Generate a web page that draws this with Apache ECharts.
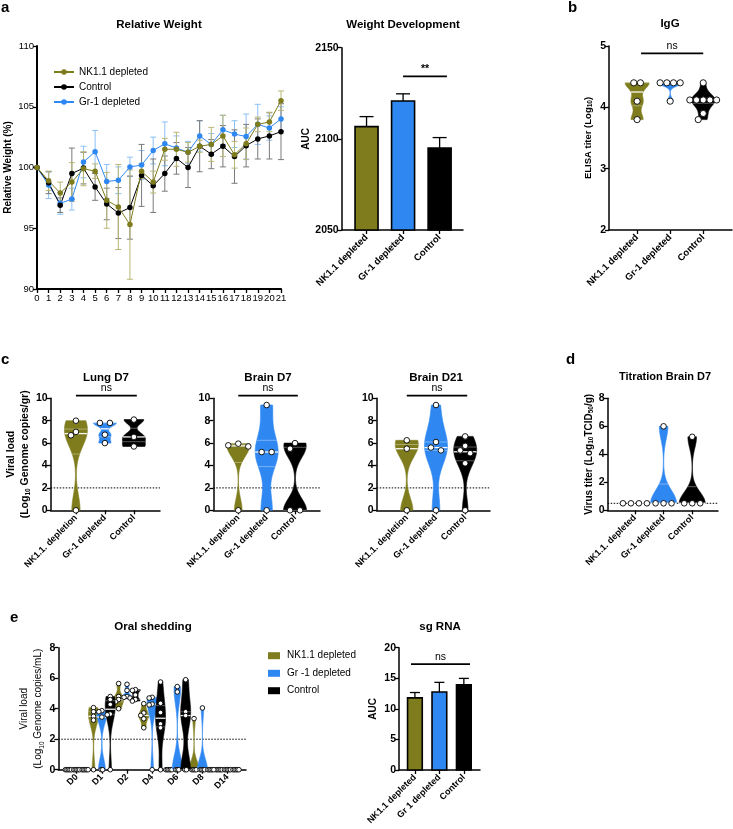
<!DOCTYPE html>
<html><head><meta charset="utf-8">
<script src="https://cdn.jsdelivr.net/npm/echarts@6/dist/echarts.min.js"></script>
<style>html,body{margin:0;padding:0;background:#fff}#c{width:733px;height:829px}</style>
</head><body><div id="c"></div>
<script>
// ---------- DATA ----------
const days = [0,1,2,3,4,5,6,7,8,9,10,11,12,13,14,15,16,17,18,19,20,21];
const wNK    = [100,98.9,97.9,98.8,99.9,99.7,97.3,96.75,95.3,99.7,98.8,101.5,101.5,101.25,101.75,101.9,102.6,101.05,101.95,103.55,103.75,105.5];
const wNKErr = [0,0.8,0.9,1.6,1.4,0.6,2.3,3.5,4.5,0.6,0.9,0.9,1.4,0.8,0.5,1.4,1.7,1.1,1.3,0.6,0.8,0.8];
const wCtrl    = [100,98.75,96.9,99.5,99.95,98.4,97.0,96.25,96.7,99.35,98.5,99.5,100.75,100.0,101.75,101.1,101.75,100.9,101.8,102.35,102.6,102.95];
const wCtrlErr = [0,0.9,0.6,2.1,1.3,1.1,1.3,2.1,2.6,2.55,2.2,1.45,1.3,1.65,2.1,1.2,1.7,2.2,1.75,1.65,1.9,2.3];
const wGr    = [100,98.55,97.05,97.4,100.45,101.3,98.85,98.95,100.05,100.2,101.4,101.95,101.6,101.25,102.6,101.9,103.1,102.75,102.55,103.55,103.25,104.0];
const wGrErr = [0,1.1,0.9,0.9,1.3,1.75,1.4,1.1,0.8,1.2,1.1,1.8,1.0,0.9,1.25,0.9,1.2,1.1,1.85,1.65,1.0,1.0];

const aucCats = ['NK1.1 depleted','Gr-1 depleted','Control'];
const aucMean = [2106.7, 2120.8, 2094.9];
const aucSem  = [5.5, 3.9, 5.8];

const iggCats = ['NK1.1 depleted','Gr-1 depleted','Control'];
const iggNK   = [4.4,4.4,4.1,3.8];
const iggGr   = [4.4,4.4,4.4,4.4,4.1];
const iggCtrl = [4.4,4.12,4.12,4.12,4.12,4.12,3.9,3.8];

const organCats = ['NK1.1. depletion','Gr-1 depleted','Control'];
const lungNK   = [8.0,7.0,6.7,0];
const lungGr   = [7.8,7.8,6.75,6.0];
const lungCtrl = [8.1,6.55,5.7];
const b7NK   = [5.95,5.8,5.7,0];
const b7Gr   = [9.4,5.2,5.2,0];
const b7Ctrl = [6.0,5.5,0,0];
const b21NK   = [6.25,5.5,0];
const b21Gr   = [9.4,6.1,5.6,5.35,0];
const b21Ctrl = [6.6,5.75,5.35,5.1,4.2,0];

const titerCats = ['NK1.1. depleted','Gr-1 depleted','Control'];
const titerNK   = [0.5,0.5,0.5,0.5];
const titerGr   = [6.0,0.5,0.5,0.5];
const titerCtrl = [5.25,0.5,0.5,0.5];

const oralDays = ['D0','D1','D2','D4','D6','D8','D14'];
const oralNK = [[0,0,0,0,0],[4.07,3.8,3.5,3.25,0],[5.65,4.8,4.6,4.45,4.0],[4.33,3.72,3.56,3.34,2.75],[0,0,0,0,0],[3.35,0,0,0,0],[0,0,0,0,0]];
const oralGr = [[0,0,0,0,0],[3.87,3.8,3.45,0,0],[5.6,5.2,4.8,4.75,4.7],[4.75,4.7,4.3,4.25,0],[5.45,5.1,0,0,0],[4.05,0,0,0,0],[0,0,0,0,0]];
const oralCtrl = [[0,0,0,0,0],[4.8,4.6,4.28,3.65,3.6,0],[5.25,5.2,4.9,4.6,4.5],[5.75,4.35,3.75,3.0,2.75,0],[5.9,3.8,3.55,0,0],[0,0,0,0,0],[0,0,0,0,0]];

const sgCats = ['NK1.1 depleted','Gr 1 depleted','Control'];
const sgMean = [11.8, 12.75, 13.95];
const sgSem  = [0.87, 1.58, 1.03];

const legendE = ['NK1.1 depleted','Gr -1 depleted','Control'];

// ---------- STYLE ----------
const FF = 'Liberation Sans, Arial, Helvetica, sans-serif';
const OLIVE = '#7e7c1c', BLUE = '#2f88f2', BLACK = '#000000';
const OLIVE_E = '#b9b775', BLUE_E = '#8cc0f5', BLACK_E = '#7a7a7a';

function median(a){const s=[...a].sort((x,y)=>x-y);const n=s.length;return n%2?s[(n-1)/2]:(s[n/2-1]+s[n/2])/2;}
function quant(a,p){const s=[...a].sort((x,y)=>x-y);const pos=(s.length-1)*p;const lo=Math.floor(pos),hi=Math.ceil(pos);return s[lo]+(s[hi]-s[lo])*(pos-lo);}

function yAx(grid,min,max,interval,extra){
  return Object.assign({type:'value',gridIndex:grid,min,max,interval,splitLine:{show:false},
    axisLine:{show:true,onZero:false,lineStyle:{color:'#000',width:1.5}},
    axisTick:{show:true,length:4,lineStyle:{color:'#000',width:1.3}},
    axisLabel:{color:'#000',fontSize:10.5,fontWeight:'bold',margin:3,fontFamily:FF,formatter:v=>String(v)},
    nameLocation:'middle',nameRotate:90,
    nameTextStyle:{color:'#000',fontSize:10,fontWeight:'bold',fontFamily:FF}},extra||{});
}
function xCat(grid,min,max,labels,fs,extra){
  const vals=labels.map((_,i)=>i);
  return Object.assign({type:'value',gridIndex:grid,min,max,splitLine:{show:false},
    axisLine:{show:true,onZero:false,lineStyle:{color:'#000',width:1.5}},
    axisTick:{show:true,length:4,customValues:vals,lineStyle:{color:'#000',width:1.3}},
    axisLabel:{customValues:vals,formatter:v=>labels[Math.round(v)],rotate:45,fontSize:fs,fontWeight:'bold',color:'#000',margin:6,fontFamily:FF}},extra||{});
}

function errSeries(ax,vals,errs,color){
  return {type:'custom',xAxisIndex:ax,yAxisIndex:ax,z:1,silent:true,
    data:days.map((d,i)=>[d,vals[i],errs[i]]),
    renderItem:(params,api)=>{
      const x=api.value(0),v=api.value(1),e=api.value(2);
      if(!e) return null;
      const t=api.coord([x,v+e]),b=api.coord([x,v-e]),cw=3;
      const st={stroke:color,lineWidth:1};
      return {type:'group',children:[
        {type:'line',shape:{x1:t[0],y1:t[1],x2:b[0],y2:b[1]},style:st},
        {type:'line',shape:{x1:t[0]-cw,y1:t[1],x2:t[0]+cw,y2:t[1]},style:st},
        {type:'line',shape:{x1:b[0]-cw,y1:b[1],x2:b[0]+cw,y2:b[1]},style:st}]};
    }};
}
function lineSeries(name,vals,color){
  return {type:'line',name,xAxisIndex:0,yAxisIndex:0,z:3,data:days.map((d,i)=>[d,vals[i]]),
    symbol:'circle',symbolSize:5.5,itemStyle:{color},lineStyle:{color,width:1}};
}
function barSeries(ax,means,sems,colors,base,bw,cap){
  return {type:'custom',xAxisIndex:ax,yAxisIndex:ax,z:3,silent:true,
    data:means.map((m,i)=>[i,m,sems[i]]),
    renderItem:(params,api)=>{
      const i=params.dataIndex,x=api.value(0),m=api.value(1),e=api.value(2);
      const top=api.coord([x,m]),bot=api.coord([x,base]),et=api.coord([x,m+e]);
      const st={stroke:'#000',lineWidth:1.3};
      return {type:'group',children:[
        {type:'line',shape:{x1:top[0],y1:top[1],x2:et[0],y2:et[1]},style:st},
        {type:'line',shape:{x1:et[0]-cap,y1:et[1],x2:et[0]+cap,y2:et[1]},style:st},
        {type:'rect',shape:{x:top[0]-bw/2,y:top[1],width:bw,height:bot[1]-top[1]},style:{fill:colors[i],stroke:'#000',lineWidth:1.6}}]};
    }};
}
function sigSeries(ax,x1,x2,y,label,bold){
  return {type:'custom',xAxisIndex:ax,yAxisIndex:ax,z:4,silent:true,clip:false,
    data:[[x1,y,x2]],
    renderItem:(params,api)=>{
      const a=api.coord([api.value(0),api.value(1)]),b=api.coord([api.value(2),api.value(1)]);
      return {type:'group',children:[
        {type:'line',shape:{x1:a[0],y1:a[1],x2:b[0],y2:a[1]},style:{stroke:'#000',lineWidth:1.8}},
        {type:'text',style:{x:(a[0]+b[0])/2,y:a[1]-2,text:label,fontSize:10.5,fontWeight:bold?'bold':'normal',fontFamily:FF,fill:'#000',align:'center',verticalAlign:'bottom'}}]};
    }};
}
function dotLine(ax,x0,x1,y){
  return {type:'line',xAxisIndex:ax,yAxisIndex:ax,z:1,silent:true,symbol:'none',
    data:[[x0,y],[x1,y]],lineStyle:{color:'#000',width:1,type:[1.5,1.5]}};
}
function violinSeries(ax,groups,xs,color,cfg){
  return {type:'custom',xAxisIndex:ax,yAxisIndex:ax,z:2,silent:true,clip:false,
    data:groups.map((g,i)=>[xs[i],median(g)]),
    renderItem:(params,api)=>{
      const vals=groups[params.dataIndex];
      const xv=api.value(0);
      const cx=api.coord([xv,0])[0];
      const ch=[];
      const mn=Math.min(...vals),mx=Math.max(...vals);
      if(mx>mn){
        const h=(mx-mn)*cfg.bw;
        const dens=y=>{let d=0;for(const v of vals)d+=Math.exp(-0.5*((y-v)/h)**2);return d;};
        const N=90;let dmax=0;const ds=[];
        for(let k=0;k<=N;k++){const y=mn+(mx-mn)*k/N;const d=dens(y);ds.push([y,d]);if(d>dmax)dmax=d;}
        const R=[],L=[];
        ds.forEach(([y,d])=>{const py=api.coord([xv,y])[1];const w=cfg.hw*d/dmax;R.push([cx+w,py]);L.push([cx-w,py]);});
        ch.push({type:'polygon',shape:{points:R.concat(L.reverse())},style:{fill:color,stroke:color,lineWidth:0.6}});
        const lines=[[quant(vals,0.5),1.3,0.95],[quant(vals,0.25),0.8,0.45],[quant(vals,0.75),0.8,0.45]];
        lines.forEach(([y,lw,op])=>{const py=api.coord([xv,y])[1];const w=cfg.hw*dens(y)/dmax;
          if(w>0.5) ch.push({type:'line',shape:{x1:cx-w,y1:py,x2:cx+w,y2:py},style:{stroke:'#ffffff',lineWidth:lw,opacity:op}});});
      }
      const rows={};vals.forEach(v=>{const k=v.toFixed(2);(rows[k]=rows[k]||[]).push(v);});
      const keys=Object.keys(rows).sort((a,b)=>Number(b)-Number(a));
      const placed=[];
      keys.forEach(k=>{
        const n=rows[k].length;const py=api.coord([xv,Number(k)])[1];
        const shifts=[0];for(let s=1;s<6;s++){shifts.push(-s*cfg.shift,s*cfg.shift);}
        let chosen=null;
        for(const sh of shifts){
          const pos=[];for(let j=0;j<n;j++)pos.push(cx+sh+(j-(n-1)/2)*cfg.step);
          if(pos.every(x=>placed.every(p=>Math.hypot(p[0]-x,p[1]-py)>=cfg.collide))){chosen=pos;break;}
        }
        if(!chosen){chosen=[];for(let j=0;j<n;j++)chosen.push(cx+(j-(n-1)/2)*cfg.step);}
        chosen.forEach(x=>placed.push([x,py]));
      });
      placed.forEach(p=>ch.push({type:'circle',shape:{cx:p[0],cy:p[1],r:cfg.r},style:{fill:'#fff',stroke:'#000',lineWidth:0.9}}));
      return {type:'group',children:ch};
    }};
}

// ---------- LAYOUT ----------
const grids=[
  {left:37,top:46,width:244,height:243},
  {left:341.7,top:47.7,width:121.3,height:182.3},
  {left:609,top:46,width:123,height:184},
  {left:50.7,top:398.3,width:109.3,height:112},
  {left:213.3,top:398.3,width:106.7,height:112},
  {left:376.7,top:398.3,width:113.3,height:112},
  {left:607.7,top:398.3,width:110.3,height:112},
  {left:58.3,top:647.7,width:187.7,height:122},
  {left:399,top:647.7,width:81,height:122.3}
];
const sub={s:{fontSize:6.5,fontWeight:'bold',fontFamily:FF,color:'#000',verticalAlign:'bottom',padding:[4,0,0,0]}};
const subN={s:{fontSize:6.5,fontFamily:FF,color:'#000',verticalAlign:'bottom',padding:[4,0,0,0]}};

const xAxes=[
  {type:'value',gridIndex:0,min:0,max:21,interval:1,splitLine:{show:false},
   axisLine:{onZero:false,lineStyle:{color:'#000',width:2}},axisTick:{length:4,lineStyle:{color:'#000',width:1.3}},
   axisLabel:{color:'#000',fontSize:9.5,margin:4,fontFamily:FF}},
  xCat(1,-0.68,2.64,aucCats,9.5),
  xCat(2,-0.85,2.87,iggCats,9.5),
  xCat(3,-0.87,2.9,organCats,9),
  xCat(4,-0.88,2.88,organCats,9),
  xCat(5,-1.03,2.85,organCats,9),
  xCat(6,-0.95,2.9,titerCats,9),
  {type:'value',gridIndex:7,min:-1.2,max:21.2,splitLine:{show:false},
   axisLine:{onZero:false,lineStyle:{color:'#000',width:1.5}},
   axisTick:{length:4,customValues:[1,4,7,10,13,16,19],lineStyle:{color:'#000',width:1.3}},
   axisLabel:{customValues:[1,4,7,10,13,16,19],formatter:v=>oralDays[Math.round((v-1)/3)],rotate:45,fontSize:9,fontWeight:'bold',color:'#000',margin:6,fontFamily:FF}},
  xCat(8,-0.65,2.66,sgCats,9)
];
const yAxes=[
  yAx(0,90,110,5,{name:'Relative Weight (%)',nameGap:24,axisLine:{onZero:false,lineStyle:{color:'#000',width:2}},
     axisLabel:{color:'#000',fontSize:9.5,margin:3,fontFamily:FF},nameTextStyle:{color:'#000',fontSize:10,fontWeight:'bold',fontFamily:FF}}),
  yAx(1,2050,2150,50,{name:'AUC',nameGap:30}),
  yAx(2,2,5,1,{name:'ELISA titer (Log{s|10})',nameGap:15,nameTextStyle:{color:'#000',fontSize:9.5,fontWeight:'bold',fontFamily:FF,rich:sub}}),
  yAx(3,0,10,2,{name:'Viral load\n(Log{s|10} Genome copies/gr)',nameGap:17,nameTextStyle:{color:'#000',fontSize:10.5,fontWeight:'bold',fontFamily:FF,lineHeight:14,rich:sub}}),
  yAx(4,0,10,2),
  yAx(5,0,10,2),
  yAx(6,0,8,2,{name:'Virus titer (Log{s|10}TCID{s|50}/g)',nameGap:10,nameTextStyle:{color:'#000',fontSize:10,fontWeight:'bold',fontFamily:FF,rich:sub}}),
  yAx(7,0,8,2,{name:'Viral load\n(Log{s|10} Genome copies/mL)',nameGap:12,nameTextStyle:{color:'#000',fontSize:10,fontFamily:FF,lineHeight:14,rich:subN}}),
  yAx(8,0,20,5,{name:'AUC',nameGap:21})
];

const vc={bw:0.17,hw:11.5,step:10,shift:5,collide:6,r:2.8};
const vcIgg={bw:0.17,hw:12,step:6.7,shift:5,collide:6.2,r:3.1};
const vcTit={bw:0.17,hw:13,step:8,shift:5,collide:6,r:2.8};
const vcOral={bw:0.17,hw:5,step:1.5,shift:3,collide:3,r:2.3};
const ox=c=>oralDays.map((_,d)=>d*3+c);

const series=[
  errSeries(0,wGr,wGrErr,BLUE_E),
  errSeries(0,wCtrl,wCtrlErr,BLACK_E),
  errSeries(0,wNK,wNKErr,OLIVE_E),
  lineSeries('Gr-1 depleted',wGr,BLUE),
  lineSeries('Control',wCtrl,BLACK),
  lineSeries('NK1.1 depleted',wNK,OLIVE),
  barSeries(1,aucMean,aucSem,[OLIVE,BLUE,BLACK],2050,23,7),
  sigSeries(1,1,2.2,2134.3,'**',true),
  violinSeries(2,[iggNK],[0],OLIVE,vcIgg),
  violinSeries(2,[iggGr],[1],BLUE,vcIgg),
  violinSeries(2,[iggCtrl],[2],BLACK,vcIgg),
  sigSeries(2,0.12,2,4.88,'ns'),
  dotLine(3,-0.87,2.9,2), dotLine(4,-0.88,2.88,2), dotLine(5,-1.03,2.85,2),
  dotLine(6,-0.95,2.9,0.5), dotLine(7,-1.2,21.2,2),
  violinSeries(3,[lungNK],[0],OLIVE,vc),violinSeries(3,[lungGr],[1],BLUE,vc),violinSeries(3,[lungCtrl],[2],BLACK,vc),
  sigSeries(3,0,2.1,10.23,'ns'),
  violinSeries(4,[b7NK],[0],OLIVE,vc),violinSeries(4,[b7Gr],[1],BLUE,vc),violinSeries(4,[b7Ctrl],[2],BLACK,vc),
  sigSeries(4,0,2.1,10.23,'ns'),
  violinSeries(5,[b21NK],[0],OLIVE,vc),violinSeries(5,[b21Gr],[1],BLUE,vc),violinSeries(5,[b21Ctrl],[2],BLACK,vc),
  sigSeries(5,0,2.07,10.23,'ns'),
  violinSeries(6,[titerNK],[0],OLIVE,vcTit),violinSeries(6,[titerGr],[1],BLUE,vcTit),violinSeries(6,[titerCtrl],[2],BLACK,vcTit),
  violinSeries(7,oralNK,ox(0),OLIVE,vcOral),
  violinSeries(7,oralGr,ox(1),BLUE,vcOral),
  violinSeries(7,oralCtrl,ox(2),BLACK,vcOral),
  barSeries(8,sgMean,sgSem,[OLIVE,BLUE,BLACK],0,14.7,5),
  sigSeries(8,-0.16,2.25,17.3,'ns')
];

function T(text,x,y,fs,align,weight){
  return {type:'text',x,y,silent:true,style:{text,fontSize:fs,fontWeight:weight||'bold',fontFamily:FF,fill:'#000',align:align||'center',verticalAlign:'middle'}};
}
const graphic=[
  T('a',1,8,15,'left'), T('Relative Weight',159,25,11.5), T('Weight Development',403,25,11.5),
  T('b',568,8,15,'left'), T('IgG',670,24,11.5),
  T('c',1,360,15,'left'), T('Lung D7',106,378,11.5), T('Brain D7',268,378,11.5), T('Brain D21',436,378,11.5),
  T('d',566,360,15,'left'), T('Titration Brain D7',665,377,11),
  T('e',10,618,15,'left'), T('Oral shedding',153,627,11.5), T('sg RNA',440,627,11.5)
];
const eColors=[OLIVE,BLUE,BLACK];
legendE.forEach((t,i)=>{
  const y=[655.7,673.3,690.7][i];
  graphic.push({type:'rect',silent:true,shape:{x:268,y:y-3.5,width:12,height:7},style:{fill:eColors[i]}});
  graphic.push(T(t,287,y,10,'left','normal'));
});

const chart=echarts.init(document.getElementById('c'),null,{renderer:'canvas'});
chart.setOption({
  animation:false,
  textStyle:{fontFamily:FF,color:'#000'},
  grid:grids,xAxis:xAxes,yAxis:yAxes,series,graphic,
  legend:[{data:['NK1.1 depleted','Control','Gr-1 depleted'],orient:'vertical',left:48,top:62,
    itemWidth:20,itemHeight:7,itemGap:5,textStyle:{fontSize:10,color:'#000',fontFamily:FF},selectedMode:false}]
});
</script></body></html>
